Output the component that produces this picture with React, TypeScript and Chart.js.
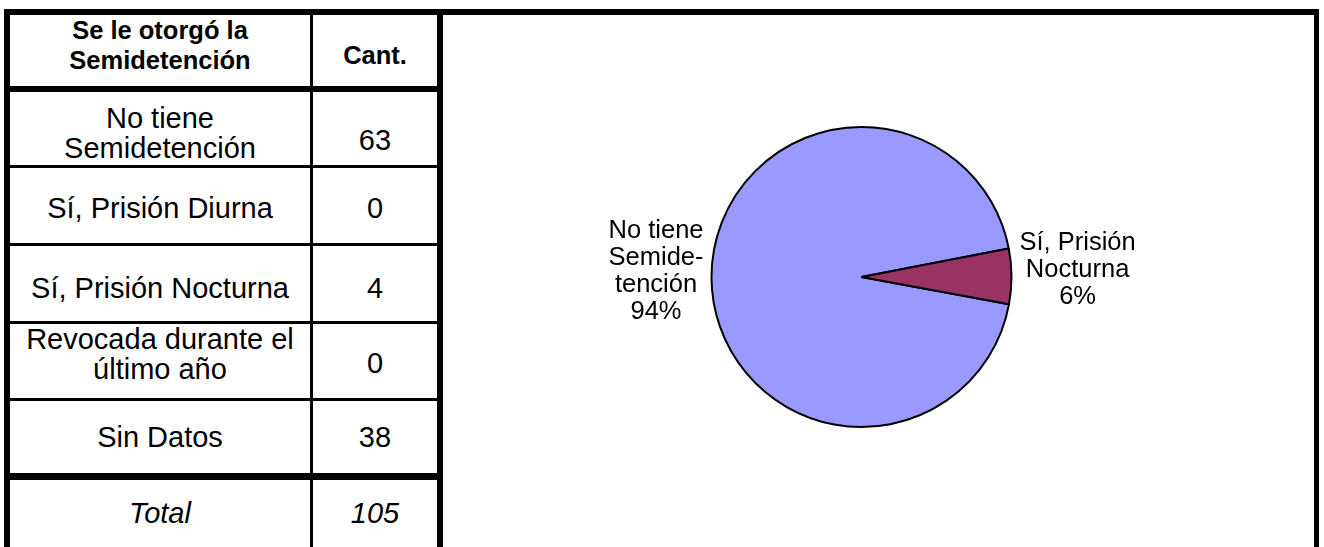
import React, { useEffect, useRef } from "react";
import { Chart, registerables } from "chart.js";

Chart.register(...registerables);

// ---------- data ----------
const headerLines = ["Se le otorgó la", "Semidetención"];
const headerCount = "Cant.";
const categories = [
  "No tiene Semidetención",
  "Sí, Prisión Diurna",
  "Sí, Prisión Nocturna",
  "Revocada durante el último año",
  "Sin Datos",
];
const tableCategoryLines = [
  ["No tiene", "Semidetención"],
  ["Sí, Prisión Diurna"],
  ["Sí, Prisión Nocturna"],
  ["Revocada durante el", "último año"],
  ["Sin Datos"],
];
const counts = [63, 0, 4, 0, 38];
const totalLabel = "Total";
const totalValue = 105;

// pie uses the categories with known data (Sin Datos excluded)
const pieCategories = categories.slice(0, 4);
const pieValues = counts.slice(0, 4);
const pieLabelLines = [
  ["No tiene", "Semide-", "tención"],
  ["Sí, Prisión", "Diurna"],
  ["Sí, Prisión", "Nocturna"],
  ["Revocada durante", "el último año"],
];
const pieColors = ["#9999FF", "#993366", "#993366", "#CCFFFF"];

// ---------- layout ----------
const FONT = "'Liberation Sans', Arial, Helvetica, sans-serif";
const COL1 = { left: 10, width: 300 };
const COL2 = { left: 313, width: 124 };
const HEADER = { top: 15, bottom: 86 };
const rowTops = [92, 168, 246, 324, 401, 480];
const rowBottoms = [165, 243, 321, 398, 473, 547];
const labelNudge = [3.5, 1.5, 3.5, -7, 0, -1.5];
const countNudge = [10.5, 1.5, 3.5, 1.5, 0, -1.5];

const borders = [
  { x: 4, y: 9, w: 1315, h: 6 }, // top
  { x: 4, y: 9, w: 6, h: 538 }, // left
  { x: 310, y: 9, w: 3, h: 538 }, // column divider
  { x: 437, y: 9, w: 6, h: 538 }, // table right / frame left
  { x: 1314, y: 9, w: 5, h: 538 }, // frame right
  { x: 4, y: 86, w: 439, h: 6 }, // header bottom
  { x: 4, y: 165, w: 439, h: 3 },
  { x: 4, y: 243, w: 439, h: 3 },
  { x: 4, y: 321, w: 439, h: 3 },
  { x: 4, y: 398, w: 439, h: 3 },
  { x: 4, y: 473, w: 439, h: 7 },
];

function Cell(props: {
  left: number;
  top: number;
  width: number;
  height: number;
  dy: number;
  lines: string[];
  size: number;
  bold?: boolean;
  italic?: boolean;
}) {
  const { left, top, width, height, dy, lines, size, bold, italic } = props;
  return (
    <div
      style={{
        position: "absolute",
        left,
        top,
        width,
        height,
        display: "flex",
        flexDirection: "column",
        alignItems: "center",
        justifyContent: "center",
        fontFamily: FONT,
        fontSize: size,
        lineHeight: "30px",
        fontWeight: bold ? "bold" : "normal",
        fontStyle: italic ? "italic" : "normal",
        color: "#000",
        textAlign: "center",
        whiteSpace: "nowrap",
      }}
    >
      <div style={{ transform: `translateY(${dy}px)` }}>
        {lines.map((l, i) => (
          <div key={i}>{l}</div>
        ))}
      </div>
    </div>
  );
}

const pieLabelPlugin = {
  id: "pieLabels",
  afterDraw(chart: any) {
    const ctx = chart.ctx;
    const meta = chart.getDatasetMeta(0);
    const data = chart.data.datasets[0].data as number[];
    const total = data.reduce((a, b) => a + b, 0);
    ctx.save();
    ctx.font = `25.5px ${FONT}`;
    ctx.fillStyle = "#000";
    ctx.textAlign = "center";
    ctx.textBaseline = "middle";
    const lineH = 27;
    const gap = 8;
    meta.data.forEach((el: any, i: number) => {
      const v = data[i];
      if (!v) return;
      const p = el.getProps(["x", "y", "startAngle", "endAngle", "outerRadius"], true);
      const mid = (p.startAngle + p.endAngle) / 2;
      const c = Math.cos(mid);
      const s = Math.sin(mid);
      const lines = [...pieLabelLines[i], Math.round((v / total) * 100) + "%"];
      const maxW = Math.max(...lines.map((l) => ctx.measureText(l).width));
      const blockH = lines.length * lineH;
      const ax = p.x + c * (p.outerRadius + gap);
      const ay = p.y + s * (p.outerRadius + gap);
      const cx = ax + c * (maxW / 2);
      const cy = ay + s * (blockH / 2) - 6;
      lines.forEach((l, k) => {
        ctx.fillText(l, cx, cy - blockH / 2 + lineH * (k + 0.5));
      });
    });
    ctx.restore();
  },
};

export default function App() {
  const canvasRef = useRef<HTMLCanvasElement | null>(null);

  useEffect(() => {
    if (!canvasRef.current) return;
    const chart = new Chart(canvasRef.current, {
      type: "pie",
      data: {
        labels: pieCategories,
        datasets: [
          {
            data: pieValues,
            backgroundColor: pieColors,
            borderColor: "#000000",
            borderWidth: 2,
          },
        ],
      },
      options: {
        animation: false,
        responsive: false,
        maintainAspectRatio: false,
        rotation: 100.5,
        layout: { padding: { left: 267.5, right: 301.5, top: 111, bottom: 119 } },
        plugins: {
          legend: { display: false },
          tooltip: { enabled: false },
          title: { display: false },
        },
      },
      plugins: [pieLabelPlugin],
    });
    return () => chart.destroy();
  }, []);

  return (
    <div
      style={{
        position: "absolute",
        left: 0,
        top: 0,
        width: 1324,
        height: 547,
        background: "#fff",
        overflow: "hidden",
      }}
    >
      {borders.map((b, i) => (
        <div
          key={i}
          style={{ position: "absolute", left: b.x, top: b.y, width: b.w, height: b.h, background: "#000" }}
        />
      ))}
      <Cell
        left={COL1.left}
        top={HEADER.top}
        width={COL1.width}
        height={HEADER.bottom - HEADER.top}
        dy={-6.5}
        lines={headerLines}
        size={25.5}
        bold
      />
      <Cell
        left={COL2.left}
        top={HEADER.top}
        width={COL2.width}
        height={HEADER.bottom - HEADER.top}
        dy={4}
        lines={[headerCount]}
        size={25.5}
        bold
      />
      {tableCategoryLines.map((lines, i) => (
        <React.Fragment key={i}>
          <Cell
            left={COL1.left}
            top={rowTops[i]}
            width={COL1.width}
            height={rowBottoms[i] - rowTops[i]}
            dy={labelNudge[i]}
            lines={lines}
            size={29}
          />
          <Cell
            left={COL2.left}
            top={rowTops[i]}
            width={COL2.width}
            height={rowBottoms[i] - rowTops[i]}
            dy={countNudge[i]}
            lines={[String(counts[i])]}
            size={29}
          />
        </React.Fragment>
      ))}
      <Cell
        left={COL1.left}
        top={rowTops[5]}
        width={COL1.width}
        height={rowBottoms[5] - rowTops[5]}
        dy={labelNudge[5]}
        lines={[totalLabel]}
        size={29}
        italic
      />
      <Cell
        left={COL2.left}
        top={rowTops[5]}
        width={COL2.width}
        height={rowBottoms[5] - rowTops[5]}
        dy={countNudge[5]}
        lines={[String(totalValue)]}
        size={29}
        italic
      />
      <canvas
        ref={canvasRef}
        width={871}
        height={532}
        style={{ position: "absolute", left: 443, top: 15, width: 871, height: 532 }}
      />
    </div>
  );
}
